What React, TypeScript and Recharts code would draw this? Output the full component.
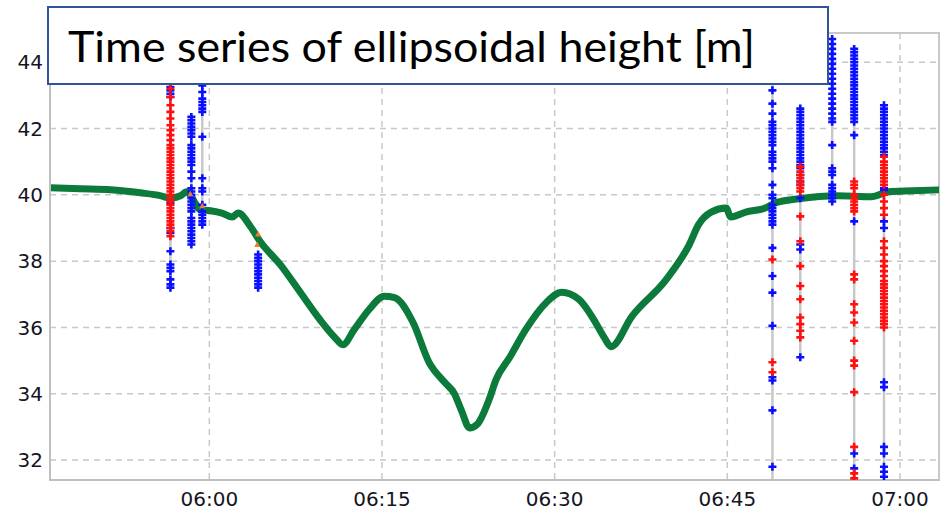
import React from "react";
import { ComposedChart, Line, Scatter, XAxis, YAxis, CartesianGrid, ReferenceArea } from "recharts";

// Time in minutes since 00:00
const greenTimes = [346.2, 348.8, 351.4, 354.0, 355.8, 356.6, 357.5, 358.0, 358.4, 358.8, 359.2, 360.1, 361.1, 362.0, 362.5, 363.6, 364.4, 366.2, 367.9, 369.6, 370.9, 371.6, 372.6, 373.9, 375.2, 376.1, 377.7, 379.1, 380.4, 381.3, 381.9, 382.6, 383.3, 384.3, 384.9, 386.1, 387.5, 389.3, 390.6, 392.1, 393.4, 394.3, 394.9, 396.7, 399.7, 401.7, 402.5, 403.6, 404.9, 405.3, 406.6, 408.3, 409.2, 411.2, 414.6, 417.5, 419.0, 421.1, 423.4];
const greenValues = [40.21, 40.18, 40.15, 40.06, 39.97, 39.9, 39.97, 40.09, 39.97, 39.73, 39.55, 39.52, 39.45, 39.33, 39.45, 39.03, 38.6, 37.88, 37.06, 36.24, 35.7, 35.48, 35.94, 36.55, 36.94, 36.9, 36.15, 34.94, 34.36, 34.0, 33.5, 32.97, 33.09, 33.82, 34.42, 35.1, 35.94, 36.76, 37.06, 36.85, 36.24, 35.7, 35.42, 36.33, 37.45, 38.5, 39.1, 39.48, 39.6, 39.33, 39.48, 39.6, 39.76, 39.88, 39.97, 39.94, 40.09, 40.12, 40.15];

const clusterTimes = [356.62, 358.44, 359.39, 364.24, 408.92, 411.34, 414.11, 416.02, 418.61];

const blueValues: number[][] = [
  [43.35, 43.25, 43.15, 43.05, 42.95, 39.75, 39.0, 38.85, 38.3, 37.9, 37.8, 37.7, 37.45, 37.3, 37.2],
  [42.35, 42.25, 42.15, 42.05, 41.95, 41.85, 41.75, 41.5, 41.4, 41.3, 41.2, 41.1, 41.0, 40.9, 40.7, 40.5, 40.2, 40.1, 40.0, 39.9, 39.8, 39.7, 39.6, 39.5, 39.3, 39.2, 39.1, 39.0, 38.9, 38.8, 38.7, 38.6, 38.5],
  [43.5, 43.4, 43.3, 43.1, 42.9, 42.8, 42.7, 42.6, 42.5, 41.75, 40.5, 40.2, 40.1, 39.7, 39.5, 39.4, 39.3, 39.2, 39.1],
  [38.2, 38.1, 38.0, 37.9, 37.8, 37.7, 37.6, 37.5, 37.4, 37.3, 37.2],
  [43.5, 43.15, 42.75, 42.45, 42.2, 42.1, 42.0, 41.9, 41.8, 41.7, 41.6, 41.5, 41.3, 41.2, 41.1, 41.0, 40.8, 40.3, 40.0, 39.9, 39.7, 39.6, 39.5, 39.4, 39.3, 39.2, 39.1, 38.4, 37.55, 37.05, 36.05, 34.5, 34.4, 33.5, 31.8, 31.0],
  [42.6, 42.5, 42.4, 42.3, 42.2, 42.1, 42.0, 41.9, 41.8, 41.7, 41.6, 41.5, 41.4, 41.3, 41.2, 41.1, 41.0, 40.9, 40.8, 40.6, 40.4, 40.3, 39.9, 38.5, 38.35, 35.1],
  [44.7, 44.55, 44.4, 44.25, 44.1, 43.95, 43.8, 43.65, 43.5, 43.35, 43.2, 43.05, 42.9, 42.75, 42.6, 42.45, 42.3, 42.2, 41.5, 40.8, 40.7, 40.6, 40.3, 40.2, 40.1, 40.0, 39.9, 39.8],
  [44.4, 44.3, 44.2, 44.1, 44.0, 43.9, 43.8, 43.7, 43.6, 43.5, 43.4, 43.3, 43.2, 43.1, 43.0, 42.9, 42.8, 42.7, 42.6, 42.5, 42.4, 42.3, 42.2, 41.8, 39.2, 32.2, 31.75],
  [42.7, 42.6, 42.5, 42.4, 42.3, 42.2, 42.1, 42.0, 41.9, 41.8, 41.7, 41.6, 41.5, 41.4, 41.3, 41.2, 40.2, 40.15, 39.2, 39.0, 34.35, 34.2, 32.4, 32.2, 31.8, 31.65, 31.5, 31.0],
];

const redValues: number[][] = [
  [43.6, 43.4, 43.2, 42.95, 42.7, 42.5, 42.3, 42.1, 41.95, 41.8, 41.65, 41.5, 41.4, 41.3, 41.2, 41.1, 41.0, 40.9, 40.8, 40.7, 40.6, 40.5, 40.4, 40.3, 40.2, 40.1, 40.0, 39.9, 39.8, 39.7, 39.6, 39.5, 39.4, 39.3, 39.2, 39.1, 39.0, 38.9, 38.75],
  [],
  [],
  [],
  [38.05, 34.95, 34.65],
  [40.85, 40.7, 40.6, 40.5, 40.4, 40.3, 40.2, 40.1, 39.35, 38.6, 37.85, 37.25, 36.85, 36.3, 36.1, 35.9, 35.7],
  [],
  [40.4, 40.3, 40.2, 40.0, 39.9, 39.8, 39.7, 39.6, 39.5, 37.6, 37.45, 36.7, 36.45, 36.15, 35.6, 35.0, 34.85, 34.05, 32.4, 31.6, 31.45, 31.0],
  [41.15, 41.0, 40.9, 40.8, 40.7, 40.6, 40.5, 40.4, 40.3, 40.0, 39.8, 39.6, 39.4, 38.6, 38.4, 38.2, 38.0, 37.85, 37.7, 37.55, 37.4, 37.3, 37.2, 37.1, 37.0, 36.9, 36.8, 36.7, 36.6, 36.5, 36.4, 36.3, 36.2, 36.1, 36.0],
];

const orangeTimes = [358.35, 359.39, 364.24, 364.16];
const orangeValues = [40.03, 39.67, 38.82, 38.5];

const xTicks = [360, 375, 390, 405, 420];
const xTickLabels = ["06:00", "06:15", "06:30", "06:45", "07:00"];
const yTicks = [32, 34, 36, 38, 40, 42, 44];
const xDomain: [number, number] = [346.16, 423.39];
const yDomain: [number, number] = [31.4, 44.88];
const title = "Time series of ellipsoidal height [m]";

const greenData = greenTimes.map((t, i) => ({ t, v: greenValues[i] }));
const blueData = clusterTimes.flatMap((t, i) => blueValues[i].map((v) => ({ t, v })));
const redData = clusterTimes.flatMap((t, i) => redValues[i].map((v) => ({ t, v })));
const orangeData = orangeTimes.map((t, i) => ({ t, v: orangeValues[i] }));
const segments = clusterTimes.map((t, i) => {
  const all = [...blueValues[i], ...redValues[i]];
  return [
    { t, v: Math.max(...all) },
    { t, v: Math.min(...all) },
  ];
});

const makeCross = (color: string) => (props: any) => {
  const { cx, cy } = props;
  if (cx == null || cy == null) return <g />;
  return (
    <path
      d={`M${cx - 4},${cy}H${cx + 4}M${cx},${cy - 4}V${cy + 4}`}
      stroke={color}
      strokeWidth={2.6}
      fill="none"
    />
  );
};

const triangle = (props: any) => {
  const { cx, cy } = props;
  if (cx == null || cy == null) return <g />;
  return <path d={`M${cx},${cy - 3}L${cx + 3},${cy + 2.5}L${cx - 3},${cy + 2.5}Z`} fill="#ed7d31" />;
};

const tickStyle = { fontFamily: "DejaVu Sans", fontSize: 20, fill: "#15151f" };

export default function App() {
  return (
    <div style={{ position: "absolute", left: 0, top: 0, width: 943, height: 512, background: "#fff" }}>
      <ComposedChart width={943} height={512} margin={{ top: 33, right: 4, bottom: 0, left: 0 }}>
        <CartesianGrid stroke="#c8c8c8" strokeDasharray="6 5" strokeWidth={1.5} vertical horizontal />
        <XAxis
          dataKey="t"
          type="number"
          domain={xDomain}
          allowDataOverflow
          ticks={xTicks}
          tickFormatter={(v: number) => xTickLabels[xTicks.indexOf(v)]}
          height={32}
          tickLine={false}
          tickSize={0}
          tickMargin={12}
          axisLine={{ stroke: "#bfbfbf", strokeWidth: 2 }}
          tick={tickStyle}
        />
        <YAxis
          dataKey="v"
          type="number"
          domain={yDomain}
          allowDataOverflow
          ticks={yTicks}
          width={50}
          tickLine={false}
          tickSize={0}
          tickMargin={7}
          axisLine={{ stroke: "#bfbfbf", strokeWidth: 2 }}
          tick={tickStyle}
        />
        <ReferenceArea x1={xDomain[0]} x2={xDomain[1]} y1={yDomain[0]} y2={yDomain[1]} fill="none" stroke="#c8c8c8" strokeWidth={2} />
        {segments.map((seg, i) => (
          <Line key={"seg" + i} data={seg} dataKey="v" stroke="#c8c8c8" strokeWidth={2.5} dot={false} isAnimationActive={false} />
        ))}
        <Line data={greenData} dataKey="v" type="monotone" stroke="#0b7a3a" strokeWidth={7} dot={false} isAnimationActive={false} strokeLinejoin="round" />
        <Scatter data={blueData} dataKey="v" shape={makeCross("#0a10ff")} isAnimationActive={false} />
        <Scatter data={redData} dataKey="v" shape={makeCross("#ff1010")} isAnimationActive={false} />
        <Scatter data={orangeData} dataKey="v" shape={triangle} isAnimationActive={false} />
      </ComposedChart>
      <svg width={943} height={512} style={{ position: "absolute", left: 0, top: 0, pointerEvents: "none" }}>
        <rect x={48} y={7} width={780} height={77} fill="#fff" stroke="#2f5597" strokeWidth={2} />
        <text x={68} y={62} fontFamily="Lato" fontSize={42} textLength={687} lengthAdjust="spacingAndGlyphs" fill="#000">
          {title}
        </text>
      </svg>
    </div>
  );
}
